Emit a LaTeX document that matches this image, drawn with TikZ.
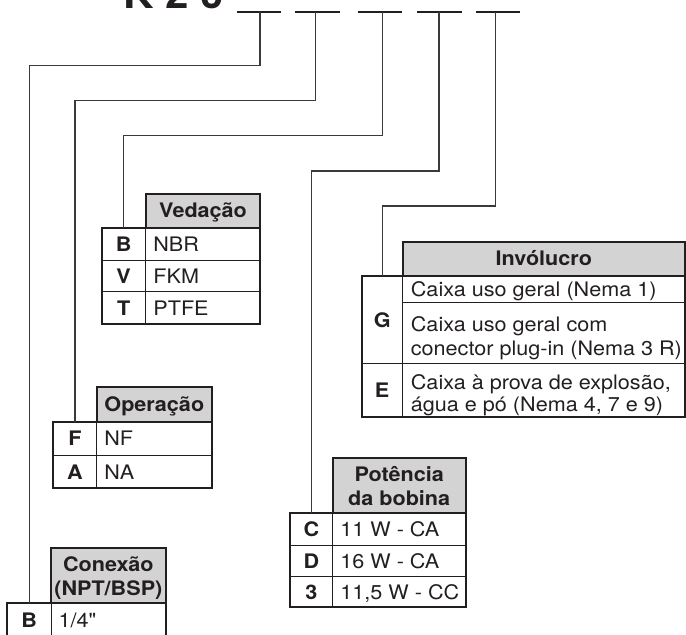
\documentclass[tikz,border=0pt]{standalone}
\usepackage{fontspec}
\setmainfont{TeX Gyre Heros}[FakeStretch=1.08]
\newfontfamily\plainq{TeX Gyre Heros}[FakeStretch=1.08, Ligatures=TeXOff]
\definecolor{ink}{HTML}{231F20}
\definecolor{wire}{HTML}{3A3A3A}
\definecolor{hdr}{HTML}{D3D3D3}
\newcommand{\tabfont}{\fontsize{20}{23.3}\selectfont}
\tikzset{
  cell/.style={draw=ink, line width=0.9pt, inner sep=0pt, outer sep=0pt, anchor=north west},
  hcell/.style={cell, fill=hdr},
  vtext/.style={anchor=base west, inner sep=0pt, font=\tabfont, text=ink},
  ktext/.style={anchor=base, inner sep=0pt, font=\tabfont\bfseries, text=ink},
  htext/.style={anchor=base, inner sep=0pt, font=\tabfont\bfseries, text=ink},
  outline/.style={draw=ink, line width=2.2pt},
  conn/.style={draw=wire, line width=1.3pt},
  uline/.style={draw=ink, line width=2pt},
}
\begin{document}
\begin{tikzpicture}[x=1pt,y=-1pt]
\useasboundingbox (0,0) rectangle (686,635);
\clip (0,0) rectangle (686,635);

% title
\node[anchor=base west, inner sep=0pt, text=ink, font=\fontsize{39}{39}\selectfont\bfseries] (title) at (123,8.3) {K 2 0};
\draw[uline] (237,12) -- (281,12);
\draw[uline] (295,12) -- (340,12);
\draw[uline] (357.5,12) -- (402,12);
\draw[uline] (417,12) -- (462,12);
\draw[uline] (475.5,12) -- (520,12);
\coordinate (u1) at (260,12);
\coordinate (u2) at (315.6,12);
\coordinate (u3) at (382.3,12);
\coordinate (u4) at (439,12);
\coordinate (u5) at (495.7,12);
\coordinate (b1) at (260,65.7);
\coordinate (b2) at (315.6,100.7);
\coordinate (b3) at (382.3,135.3);
\coordinate (b4) at (439,171);
\coordinate (b5) at (495.7,206);

% ---------- Vedacao
\node[hcell, minimum width=114.6pt, minimum height=34.3pt] (ved-h) at (145.7,194) {};
\node[cell, minimum width=44pt, minimum height=31.7pt] (ved-k1) at (101.7,228.3) {};
\node[cell, minimum width=114.6pt, minimum height=31.7pt] (ved-v1) at (145.7,228.3) {};
\node[cell, minimum width=44pt, minimum height=31.7pt] (ved-k2) at (101.7,260) {};
\node[cell, minimum width=114.6pt, minimum height=31.7pt] (ved-v2) at (145.7,260) {};
\node[cell, minimum width=44pt, minimum height=32.3pt] (ved-k3) at (101.7,291.7) {};
\node[cell, minimum width=114.6pt, minimum height=32.3pt] (ved-v3) at (145.7,291.7) {};
\draw[outline] (ved-h.north west) rectangle (ved-h.south east);
\draw[outline] (ved-k1.north west) rectangle (ved-v3.south east);
\node[htext] (ved-ht) at ([yshift=-6.5pt]ved-h.center) {Vedação};
\node[ktext] (ved-k1t) at ([yshift=-7.5pt]ved-k1.center) {B};
\node[ktext] (ved-k2t) at ([yshift=-7.5pt]ved-k2.center) {V};
\node[ktext] (ved-k3t) at ([yshift=-7.5pt]ved-k3.center) {T};
\node[vtext] (ved-v1t) at ([xshift=7.5pt,yshift=-7.5pt]ved-v1.west) {NBR};
\node[vtext] (ved-v2t) at ([xshift=7.5pt,yshift=-7.5pt]ved-v2.west) {FKM};
\node[vtext] (ved-v3t) at ([xshift=7.5pt,yshift=-7.5pt]ved-v3.west) {PTFE};

% ---------- Operacao
\node[hcell, minimum width=115.3pt, minimum height=34.4pt] (op-h) at (96.7,387.3) {};
\node[cell, minimum width=43.4pt, minimum height=33.3pt] (op-k1) at (53.3,421.7) {};
\node[cell, minimum width=115.3pt, minimum height=33.3pt] (op-v1) at (96.7,421.7) {};
\node[cell, minimum width=43.4pt, minimum height=33.3pt] (op-k2) at (53.3,455) {};
\node[cell, minimum width=115.3pt, minimum height=33.3pt] (op-v2) at (96.7,455) {};
\draw[outline] (op-h.north west) rectangle (op-h.south east);
\draw[outline] (op-k1.north west) rectangle (op-v2.south east);
\node[htext] (op-ht) at ([yshift=-6.5pt]op-h.center) {Operação};
\node[ktext] (op-k1t) at ([yshift=-7.5pt]op-k1.center) {F};
\node[ktext] (op-k2t) at ([yshift=-7.5pt]op-k2.center) {A};
\node[vtext] (op-v1t) at ([xshift=7.5pt,yshift=-7.5pt]op-v1.west) {NF};
\node[vtext] (op-v2t) at ([xshift=7.5pt,yshift=-7.5pt]op-v2.west) {NA};

% ---------- Conexao
\node[hcell, minimum width=114.7pt, minimum height=55pt] (con-h) at (51,548.3) {};
\node[cell, minimum width=43.7pt, minimum height=33.3pt] (con-k1) at (7.3,603.3) {};
\node[cell, minimum width=114.7pt, minimum height=33.3pt] (con-v1) at (51,603.3) {};
\draw[outline] (con-h.north west) rectangle (con-h.south east);
\draw[outline] (con-k1.north west) rectangle (con-v1.south east);
\node[htext] (con-ht1) at ([yshift=4pt]con-h.center) {Conexão};
\node[htext] (con-ht2) at ([yshift=-19.3pt]con-h.center) {(NPT/BSP)};
\node[ktext] (con-k1t) at ([yshift=-7.5pt]con-k1.center) {B};
\node[vtext] (con-v1t) at ([xshift=7.5pt,yshift=-7.5pt]con-v1.west) {1/4{\plainq "}};

% ---------- Potencia
\node[hcell, minimum width=133pt, minimum height=54.4pt] (pot-h) at (332.7,458.3) {};
\node[cell, minimum width=42.7pt, minimum height=32.3pt] (pot-k1) at (290,512.7) {};
\node[cell, minimum width=133pt, minimum height=32.3pt] (pot-v1) at (332.7,512.7) {};
\node[cell, minimum width=42.7pt, minimum height=31.7pt] (pot-k2) at (290,545) {};
\node[cell, minimum width=133pt, minimum height=31.7pt] (pot-v2) at (332.7,545) {};
\node[cell, minimum width=42.7pt, minimum height=30pt] (pot-k3) at (290,576.7) {};
\node[cell, minimum width=133pt, minimum height=30pt] (pot-v3) at (332.7,576.7) {};
\draw[outline] (pot-h.north west) rectangle (pot-h.south east);
\draw[outline] (pot-k1.north west) rectangle (pot-v3.south east);
\node[htext] (pot-ht1) at ([yshift=3.8pt]pot-h.center) {Potência};
\node[htext] (pot-ht2) at ([yshift=-19.5pt]pot-h.center) {da bobina};
\node[ktext] (pot-k1t) at ([yshift=-7.5pt]pot-k1.center) {C};
\node[ktext] (pot-k2t) at ([yshift=-7.5pt]pot-k2.center) {D};
\node[ktext] (pot-k3t) at ([yshift=-7.5pt]pot-k3.center) {3};
\node[vtext] (pot-v1t) at ([xshift=7.5pt,yshift=-7.5pt]pot-v1.west) {11 W - CA};
\node[vtext] (pot-v2t) at ([xshift=7.5pt,yshift=-7.5pt]pot-v2.west) {16 W - CA};
\node[vtext] (pot-v3t) at ([xshift=7.5pt,yshift=-7.5pt]pot-v3.west) {11,5 W - CC};

% ---------- Involucro
\node[hcell, minimum width=282.3pt, minimum height=34pt] (inv-h) at (402.7,241.7) {};
\node[cell, minimum width=41pt, minimum height=87.6pt] (inv-k1) at (361.7,275.7) {};
\node[cell, minimum width=282.3pt, minimum height=27pt] (inv-v1) at (402.7,275.7) {};
\node[cell, minimum width=282.3pt, minimum height=60.6pt] (inv-v2) at (402.7,302.7) {};
\node[cell, minimum width=41pt, minimum height=54pt] (inv-k2) at (361.7,363.3) {};
\node[cell, minimum width=282.3pt, minimum height=54pt] (inv-v3) at (402.7,363.3) {};
\draw[outline] (inv-h.north west) rectangle (inv-h.south east);
\draw[outline] (inv-k1.north west) rectangle (inv-v3.south east);
\node[htext] (inv-ht) at ([yshift=-6.5pt]inv-h.center) {Invólucro};
\node[ktext] (inv-k1t) at ([yshift=-7.5pt]inv-k1.center) {G};
\node[ktext] (inv-k2t) at ([yshift=-7.5pt]inv-k2.center) {E};
\node[vtext] (inv-v1t) at ([xshift=8pt,yshift=-7pt]inv-v1.west) {Caixa uso geral (Nema 1)};
\node[vtext] (inv-v2t1) at ([xshift=8pt,yshift=1.3pt]inv-v2.west) {Caixa uso geral com};
\node[vtext] (inv-v2t2) at ([xshift=8pt,yshift=-22pt]inv-v2.west) {conector plug-in (Nema 3 R)};
\node[vtext] (inv-v3t1) at ([xshift=8pt,yshift=1pt]inv-v3.west) {Caixa à prova de explosão,};
\node[vtext] (inv-v3t2) at ([xshift=8pt,yshift=-21.6pt]inv-v3.west) {água e pó (Nema 4, 7 e 9)};

% ---------- connectors
\draw[conn] (u1) -- (b1) -| (con-k1.north);
\draw[conn] (u2) -- (b2) -| (op-k1.north);
\draw[conn] (u3) -- (b3) -| (ved-k1.north);
\draw[conn] (u4) -- (b4) -| (pot-k1.north);
\draw[conn] (u5) -- (b5) -| (inv-k1.north);
\end{tikzpicture}
\end{document}
